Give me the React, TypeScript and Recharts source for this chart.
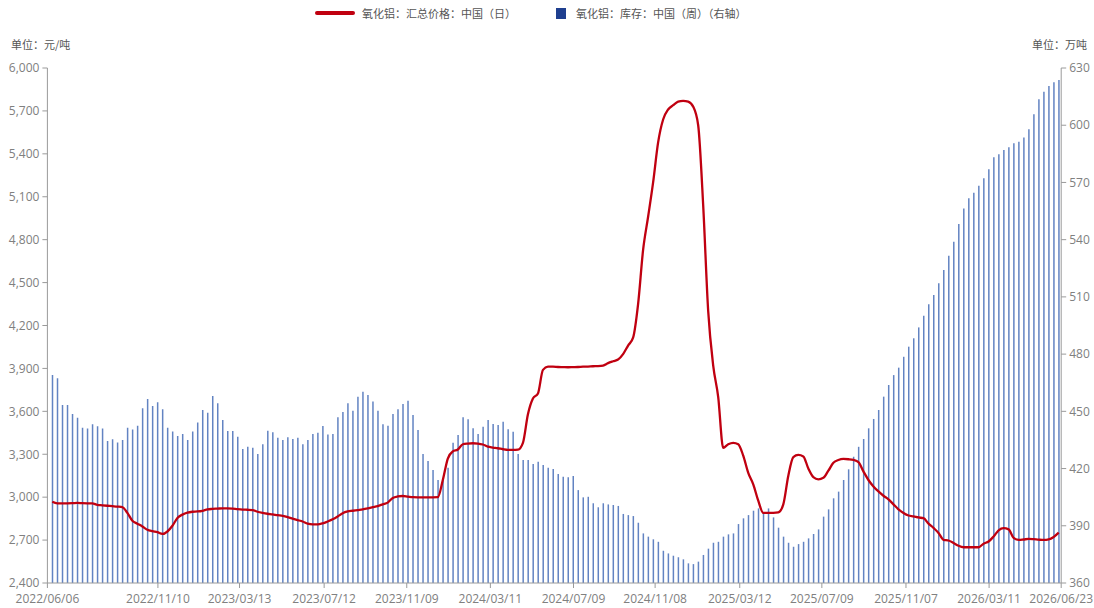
import { ComposedChart, Bar, Line, XAxis, YAxis } from 'recharts';

// weekly inventory, 万吨 (right axis)
const inventory = [
  469, 467.3, 453.3, 453.3, 448.6, 446.7, 441.4, 441, 443.2, 442.2,
  441, 434.4, 435.3, 433.6, 435, 441.4, 440.5, 442.5, 451.6, 456.5,
  452.8, 454.7, 451.1, 441.4, 439.4, 437.1, 438.1, 435, 439.4, 444.2,
  450.7, 449.3, 458, 454.2, 445.4, 439.7, 439.7, 436.7, 430.2, 431.4,
  430.9, 427.6, 432.7, 439.8, 439, 436.2, 435, 436.4, 435.5, 436.2,
  432.7, 435, 438.1, 438.8, 442.3, 437.9, 438.1, 446.9, 449.6, 454.2,
  450.3, 457.7, 460.3, 458.6, 455.1, 450.3, 443.2, 442.5, 448.6, 451.1,
  453.8, 455.6, 448.1, 440.2, 427.6, 424, 419.2, 414, 414, 420.4,
  433.5, 437.6, 446.9, 445.8, 441.1, 438.1, 441.9, 445.4, 443.3, 442.8,
  444.6, 440.6, 439.3, 427.6, 424.5, 424.5, 422.4, 423.6, 421.9, 420.4,
  419.8, 417.1, 415.7, 415.4, 416.1, 408.7, 404.9, 405.2, 401.8, 399.7,
  401.8, 401.2, 400.9, 400.4, 396.2, 395.6, 395.1, 391.6, 386, 384.3,
  382.9, 381.6, 376.9, 375.5, 374.3, 373.5, 372.4, 370.3, 369.9, 371.2,
  374.7, 378, 381.1, 381.6, 384.3, 385.5, 386, 390.9, 393.9, 395.6,
  397.9, 399.1, 396.8, 399.1, 394.4, 389, 384.3, 381.1, 379, 380.4,
  381.6, 383.4, 385.7, 388.1, 394.8, 398.6, 404.4, 407.9, 414, 419.6,
  426.2, 431.4, 435.5, 441.1, 446, 450.7, 457.7, 463.8, 469, 472.9,
  478.6, 483.9, 488.3, 494, 500.1, 506.1, 511, 517.1, 524.1, 531.6,
  538.9, 548.2, 556.4, 561.7, 564.6, 568.3, 572.2, 576.9, 583.2, 584.8,
  587, 588.4, 590.5, 591.4, 593.5, 597.9, 605.7, 613.6, 617.6, 620.6,
  622.5, 623.7,
];

// price, 元/吨 (left axis), read at the same weekly points
const price = [
  2968, 2957, 2957, 2957, 2958, 2960, 2958, 2957, 2957, 2946,
  2943, 2940, 2937, 2934, 2930, 2890, 2835, 2815, 2795, 2772,
  2762, 2755, 2743, 2760, 2800, 2855, 2878, 2892, 2898, 2900,
  2905, 2915, 2918, 2920, 2922, 2922, 2920, 2916, 2913, 2912,
  2910, 2898, 2890, 2884, 2880, 2874, 2870, 2860, 2850, 2840,
  2830, 2815, 2810, 2810, 2817, 2830, 2845, 2865, 2888, 2900,
  2905, 2910, 2915, 2922, 2930, 2938, 2950, 2962, 2995, 3005,
  3008, 3004, 3000, 2999, 2999, 2999, 2999, 3000, 3120, 3270,
  3320, 3333, 3370, 3375, 3377, 3375, 3368, 3353, 3347, 3342,
  3335, 3330, 3330, 3332, 3380, 3580, 3690, 3725, 3890, 3912,
  3912, 3910, 3909, 3908, 3909, 3910, 3912, 3913, 3915, 3916,
  3920, 3937, 3950, 3962, 4000, 4060, 4115, 4350, 4728, 4960,
  5200, 5480, 5640, 5710, 5740, 5765, 5770, 5765, 5730, 5600,
  5040, 4300, 3920, 3700, 3345, 3370, 3380, 3370, 3290, 3170,
  3090, 2975, 2890, 2890, 2890, 2893, 2950, 3150, 3280, 3295,
  3285, 3200, 3140, 3125, 3135, 3185, 3240, 3260, 3267, 3265,
  3260, 3245, 3180, 3120, 3075, 3040, 3010, 2985, 2950, 2915,
  2890, 2872, 2866, 2858, 2853, 2815, 2785, 2750, 2702, 2697,
  2680, 2660, 2650, 2650, 2650, 2650, 2675, 2690, 2725, 2768,
  2783, 2775, 2715, 2701, 2704, 2708, 2706, 2703, 2701, 2705,
  2722, 2752,
];

const dateLabels = [
  '2022/06/06', '2022/11/10', '2023/03/13', '2023/07/12', '2023/11/09',
  '2024/03/11', '2024/07/09', '2024/11/08', '2025/03/12', '2025/07/09',
  '2025/11/07', '2026/03/11', '2026/06/23',
];
// where each date label falls, counted in weekly points
const dateLabelPos = [-0.97, 21.1, 37.4, 54.3, 70.8, 87.5, 104.1, 120.4, 137.3, 153.7, 170.5, 187.1, 201.5];

const priceTicks = [2400, 2700, 3000, 3300, 3600, 3900, 4200, 4500, 4800, 5100, 5400, 5700, 6000];
const stockTicks = [360, 390, 420, 450, 480, 510, 540, 570, 600, 630];

const data = inventory.map((v, i) => ({ idx: i, stock: v, price: price[i] }));

const tickStyle = { fontSize: 12, fill: '#808080', fontFamily: '"Open Sans", sans-serif' };
const axisStroke = '#9a9a9a';
const cjk = '"Noto Sans CJK SC", sans-serif';

export default function App() {
  return (
    <div style={{ position: 'absolute', left: 0, top: 0, width: 1094, height: 608, background: '#fff' }}>
      <div style={{ position: 'absolute', left: 315, top: 5, display: 'flex', alignItems: 'center', fontFamily: cjk, fontSize: 11, color: '#555', whiteSpace: 'nowrap' }}>
        <span style={{ display: 'inline-block', width: 40, height: 4, borderRadius: 2, background: '#c00010', marginRight: 7 }} />
        <span>氧化铝：汇总价格：中国（日）</span>
        <span style={{ display: 'inline-block', width: 10, height: 11, background: '#1f3f8f', marginLeft: 40, marginRight: 10 }} />
        <span>氧化铝：库存：中国（周）（右轴）</span>
      </div>
      <div style={{ position: 'absolute', left: 11, top: 36, fontFamily: cjk, fontSize: 11, color: '#555' }}>单位：元/吨</div>
      <div style={{ position: 'absolute', left: 1032, top: 36, fontFamily: cjk, fontSize: 11, color: '#555' }}>单位：万吨</div>
      <ComposedChart
        width={1094}
        height={608}
        data={data}
        margin={{ top: 68, right: 1.4, left: 7.4, bottom: 0 }}
      >
        <XAxis
          dataKey="idx"
          type="number"
          domain={[dateLabelPos[0], dateLabelPos[dateLabelPos.length - 1]]}
          allowDataOverflow
          ticks={dateLabelPos}
          tickFormatter={(v) => dateLabels[dateLabelPos.indexOf(v)] ?? ''}
          interval={0}
          height={25}
          tick={tickStyle}
          tickSize={5}
          tickMargin={6}
          stroke={axisStroke}
        />
        <YAxis
          yAxisId="left"
          domain={[2400, 6000]}
          ticks={priceTicks}
          interval={0}
          width={40}
          tick={tickStyle}
          tickSize={5}
          tickMargin={3}
          stroke={axisStroke}
          tickFormatter={(v) => v.toLocaleString('en-US')}
        />
        <YAxis
          yAxisId="right"
          orientation="right"
          domain={[360, 630]}
          ticks={stockTicks}
          interval={0}
          width={31.4}
          tick={tickStyle}
          tickSize={5}
          tickMargin={3}
          stroke={axisStroke}
        />
        <Bar yAxisId="right" dataKey="stock" fill="#6283c2" barSize={1.5} isAnimationActive={false} />
        <Line
          yAxisId="left"
          type="monotone"
          dataKey="price"
          stroke="#c00010"
          strokeWidth={2.3}
          dot={false}
          activeDot={false}
          isAnimationActive={false}
        />
      </ComposedChart>
    </div>
  );
}
